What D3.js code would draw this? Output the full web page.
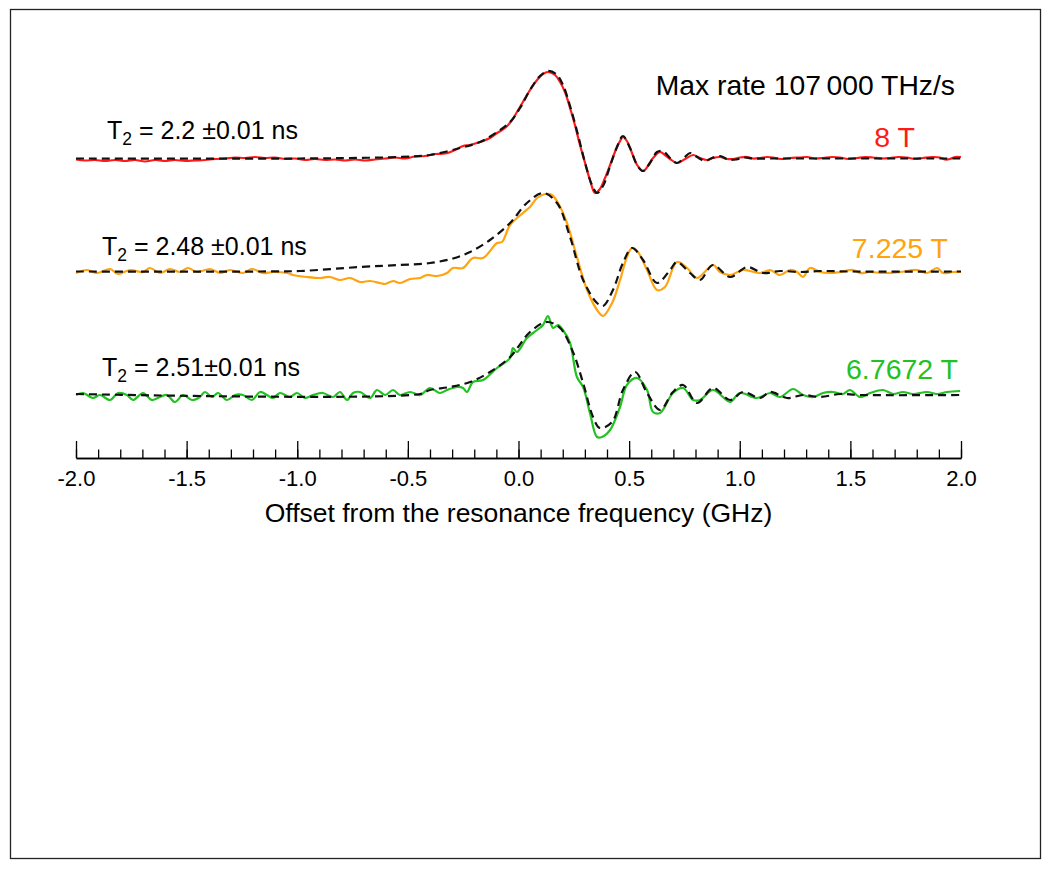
<!DOCTYPE html>
<html>
<head>
<meta charset="utf-8">
<script src="https://cdn.jsdelivr.net/npm/d3@7"></script>
<style>
  html, body { margin: 0; padding: 0; background: #fff; }
  svg { display: block; font-family: "Liberation Sans", Arial, Helvetica, sans-serif; }
</style>
</head>
<body>
<svg id="chart" width="1050" height="870"></svg>
<script>
// ---------------- DATA ----------------
// x: offset from resonance (GHz); signal: arbitrary units relative to each trace's baseline
const majorTicks = [-2.0, -1.5, -1.0, -0.5, 0.0, 0.5, 1.0, 1.5, 2.0];
const fieldLabels = ["8 T", "7.225 T", "6.7672 T"];
const t2Values = ["2.2", "2.48", "2.51"];
const t2Errors = ["0.01", "0.01", "0.01"];
const traceOffsets = [298.5, 185.5, 62];   // vertical stacking offsets (a.u.)

// 8 T measured
const redFreq = [-2.000,-1.959,-1.914,-1.869,-1.824,-1.779,-1.733,-1.688,-1.643,-1.598,-1.553,-1.507,-1.462,-1.417,-1.372,-1.327,-1.281,-1.236,-1.191,-1.146,-1.101,-1.055,-1.010,-0.965,-0.920,-0.875,-0.829,-0.784,-0.739,-0.694,-0.649,-0.603,-0.558,-0.513,-0.468,-0.423,-0.377,-0.332,-0.287,-0.251,-0.219,-0.174,-0.129,-0.097,-0.061,-0.029,-0.007,0.020,0.052,0.084,0.111,0.133,0.165,0.188,0.210,0.233,0.255,0.278,0.301,0.323,0.346,0.368,0.391,0.414,0.436,0.459,0.472,0.490,0.513,0.536,0.563,0.585,0.608,0.640,0.662,0.685,0.716,0.753,0.789,0.820,0.852,0.879,0.911,0.942,0.970,1.001,1.033,1.060,1.092,1.123,1.150,1.182,1.227,1.272,1.304,1.340,1.376,1.417,1.453,1.489,1.530,1.566,1.602,1.643,1.679,1.715,1.756,1.792,1.828,1.869,1.905,1.928,1.950,1.973,2.000];
const redSignal = [-1,-2,-1.5,-2.5,-1.5,-2.5,-1.5,-3,-1.5,-2.5,-1.5,-2.5,-2,-1.5,-0.5,0,1,0.5,1.5,0.5,1,-0.5,0,-1.5,-0.5,-1.5,-1,-2,-1,-2,-1,0,1,0,2,2.5,4.5,5,8.5,12.5,13.5,16.5,20.5,25.5,30.5,38.5,46.5,56.5,68.5,78.5,84.5,86.5,83.5,76.5,66.5,50.5,33.5,13.5,-4.5,-21.5,-34.5,-30.5,-19.5,-6.5,6.5,17.5,21.5,17.5,5.5,-6.5,-12.5,-7.5,0.5,6.5,3.5,-0.5,-4.5,-0.5,3.5,0.5,-1.5,0.5,1.5,-0.5,-0.5,1,1.5,0,0.5,1.5,1,-0.5,0.5,1,1.5,0,0.5,1.5,1,-0.5,0.5,1.5,1,0,0.5,1.5,1,-0.5,0.5,1.5,1,-1,-0.5,1.5,1.5];
// 8 T fit
const redFitFreq = [-2.0,-0.988,-0.762,-0.536,-0.400,-0.264,-0.174,-0.097,-0.038,0.007,0.052,0.097,0.133,0.170,0.201,0.233,0.269,0.301,0.332,0.355,0.382,0.414,0.445,0.472,0.504,0.536,0.563,0.594,0.626,0.653,0.685,0.716,0.748,0.775,0.807,0.843,0.875,0.911,0.947,0.984,1.019,1.056,1.137,2.0];
const redFitSignal = [0,0,0.5,1.5,3.5,10.5,16.5,26.5,36.5,50.5,68.5,82.5,87.5,84.5,73.5,52.5,23.5,-4.5,-26.5,-34.5,-27.5,-7.5,11.5,22.5,10.5,-6.5,-12.5,-4.5,6.5,7.5,0.5,-4.5,0.5,5.5,1.5,-2.5,0.5,2.5,-1,-1,1,0,0,0];

// 7.225 T measured
const orangeFreq = [-2.000,-1.950,-1.905,-1.846,-1.810,-1.756,-1.697,-1.666,-1.620,-1.575,-1.530,-1.494,-1.453,-1.394,-1.349,-1.304,-1.245,-1.205,-1.155,-1.110,-1.046,-1.019,-0.956,-0.897,-0.852,-0.807,-0.762,-0.716,-0.671,-0.626,-0.603,-0.567,-0.536,-0.490,-0.445,-0.414,-0.368,-0.323,-0.296,-0.251,-0.206,-0.160,-0.097,-0.075,-0.038,0.020,0.052,0.084,0.120,0.151,0.179,0.219,0.264,0.310,0.355,0.382,0.423,0.459,0.490,0.513,0.540,0.581,0.626,0.662,0.716,0.762,0.807,0.879,0.911,0.956,1.015,1.092,1.137,1.182,1.227,1.259,1.286,1.318,1.363,1.408,1.453,1.512,1.543,1.589,1.648,1.724,1.801,1.846,1.892,1.919,1.964,2.000];
const orangeSignal = [-1.5,1.5,-1.5,2.5,-2.5,1.5,-0.5,3.5,-1.5,2.5,-0.5,3.5,-0.5,2.5,-1.5,1.5,-1.5,2.5,-1.5,-0.5,-1.5,-3.5,-5.5,-6.5,-5.5,-8.5,-6.5,-10.5,-9.5,-11.5,-12.5,-9.5,-11.5,-7.5,-6.5,-3.5,-4.5,-1.5,3.5,3.5,13.5,13.5,28.5,29.5,46.5,58.5,64.5,73.5,77.5,76.5,68.5,48.5,14.5,-18.5,-38.5,-44.5,-31.5,-8.5,14.5,23.5,19.5,1.5,-18.5,-15.5,9.5,3.5,-6.5,6.5,-0.5,-3.5,1.5,-1.5,1.5,-3.5,1.5,-0.5,-5.5,3.5,-0.5,-1.5,-0.5,1.5,-1.5,-0.5,-1.5,-0.5,1.5,-1.5,3.5,-1.5,-0.5,-0.5];
// 7.225 T fit
const orangeFitFreq = [-2.0,-1.168,-0.988,-0.716,-0.536,-0.400,-0.296,-0.219,-0.129,-0.038,0.038,0.111,0.174,0.233,0.292,0.355,0.382,0.427,0.472,0.513,0.563,0.626,0.685,0.716,0.775,0.820,0.879,0.956,1.033,1.105,1.182,1.272,1.363,1.498,2.0];
const orangeFitSignal = [0,0,0.5,4.5,6.5,8.5,13,19.5,31.5,48.5,68.5,78.5,68.5,34.5,-8.5,-31.5,-34.5,-18.5,8.5,23.5,11.5,-11.5,1.5,9.5,-1.5,-8.5,6.5,-5.5,4.5,-1.5,0.5,-0.5,0.5,0,0];

// 6.7672 T measured
const greenFreq = [-2.000,-1.968,-1.923,-1.892,-1.846,-1.810,-1.770,-1.742,-1.697,-1.657,-1.620,-1.589,-1.553,-1.516,-1.476,-1.440,-1.417,-1.385,-1.358,-1.318,-1.281,-1.245,-1.205,-1.168,-1.137,-1.110,-1.078,-1.033,-1.001,-0.965,-0.929,-0.884,-0.838,-0.807,-0.775,-0.748,-0.716,-0.671,-0.640,-0.603,-0.567,-0.536,-0.490,-0.445,-0.400,-0.355,-0.323,-0.278,-0.251,-0.233,-0.206,-0.160,-0.097,-0.038,-0.025,-0.007,0.038,0.084,0.111,0.133,0.156,0.179,0.201,0.233,0.264,0.292,0.323,0.355,0.377,0.414,0.459,0.490,0.536,0.581,0.608,0.640,0.698,0.744,0.789,0.820,0.879,0.924,0.956,1.001,1.078,1.137,1.182,1.241,1.286,1.331,1.376,1.421,1.467,1.498,1.543,1.589,1.648,1.693,1.738,1.783,1.846,1.892,1.937,1.996];
const greenSignal = [0,2,-3,0,-5,2,0,-5,2,-5,-2,0,-7,0,-5,-2,3,-2,2,-5,0,0,-5,3,0,-3,2,-2,2,-3,0,2,-2,3,-5,2,3,-3,5,0,5,0,3,0,7,2,5,8,7,3,13,15,27,37,47,43,57,65,70,79,67,70,65,52,18,8,-18,-42,-42,-35,-12,10,17,5,-17,-18,2,7,-5,-5,5,-2,-7,2,-3,2,-2,6,0,-2,2,3,1,5,-2,2,5,1,3,1,3,1,3,4];
// 6.7672 T fit
const greenFitFreq = [-2.0,-0.445,-0.400,-0.310,-0.219,-0.129,-0.038,0.052,0.129,0.188,0.246,0.292,0.337,0.368,0.423,0.472,0.527,0.581,0.640,0.698,0.744,0.807,0.879,0.956,1.015,1.092,1.137,1.214,1.286,1.363,1.453,1.543,2.0];
const greenFitSignal = [1,1,5,8,13,23,38,63,73,67,43,12,-22,-33,-27,5,23,2,-15,3,10,-8,7,-5,3,-3,3,-3,0,-2,1,0,0];

// ---------------- DRAWING ----------------
const svg = d3.select("#chart");
const W = 1050, H = 870;

svg.append("rect").attr("x", 0).attr("y", 0).attr("width", W).attr("height", H).attr("fill", "#fff");
svg.append("rect").attr("x", 10.5).attr("y", 9.5).attr("width", 1030).attr("height", 849)
  .attr("fill", "none").attr("stroke", "#222").attr("stroke-width", 1.3);

const x = d3.scaleLinear().domain([-2, 2]).range([76, 961]);
const y = d3.scaleLinear().domain([0, 450]).range([457, 7]);
const axisY = 458;

const colors = ["#ff1a1a", "#ffa30f", "#22c222"];
const traces = [
  {freq: redFreq, sig: redSignal, fitFreq: redFitFreq, fit: redFitSignal},
  {freq: orangeFreq, sig: orangeSignal, fitFreq: orangeFitFreq, fit: orangeFitSignal},
  {freq: greenFreq, sig: greenSignal, fitFreq: greenFitFreq, fit: greenFitSignal}
];

traces.forEach((t, i) => {
  const off = traceOffsets[i];
  const line = d3.line()
    .x(d => x(d[0]))
    .y(d => y(d[1] + off))
    .curve(d3.curveCatmullRom.alpha(0.5));
  const data = t.freq.map((f, k) => [f, t.sig[k]]);
  const fit = t.fitFreq.map((f, k) => [f, t.fit[k]]);
  svg.append("path").attr("d", line(data))
    .attr("fill", "none").attr("stroke", colors[i]).attr("stroke-width", 2.2)
    .attr("stroke-linejoin", "round");
  svg.append("path").attr("d", line(fit))
    .attr("fill", "none").attr("stroke", "#111").attr("stroke-width", 2.2)
    .attr("stroke-dasharray", "8,5");
});

// Axis
const minorTicks = d3.range(-20, 21).map(v => v / 10);
const minorAxis = d3.axisBottom(x).tickValues(minorTicks).tickSize(-8.5).tickSizeOuter(0).tickFormat("");
const majorAxis = d3.axisBottom(x).tickValues(majorTicks).tickSize(-17).tickSizeOuter(0)
  .tickPadding(12).tickFormat(d => d.toFixed(1));

const gMinor = svg.append("g").attr("transform", `translate(0,${axisY})`).call(minorAxis);
const gMajor = svg.append("g").attr("transform", `translate(0,${axisY})`).call(majorAxis);
[gMinor, gMajor].forEach(g => {
  g.selectAll("path.domain").attr("stroke", "#000").attr("stroke-width", 1.5);
  g.selectAll(".tick line").attr("stroke", "#000").attr("stroke-width", 1.3);
});
gMajor.selectAll(".tick text")
  .attr("font-family", "'Liberation Sans', Arial, sans-serif")
  .attr("font-size", 22).attr("fill", "#000");

svg.append("text")
  .attr("x", x(0)).attr("y", 522)
  .attr("text-anchor", "middle").attr("font-size", 26.5).attr("fill", "#000")
  .text("Offset from the resonance frequency (GHz)");

// Title text
svg.append("text")
  .attr("x", 955).attr("y", 95)
  .attr("text-anchor", "end").attr("font-size", 28.3).attr("fill", "#000")
  .text("Max rate 107\u2009000 THz/s");

// Field labels
const fieldPos = [[915, 147], [948, 258], [958, 379]];
fieldLabels.forEach((lab, i) => {
  svg.append("text")
    .attr("x", fieldPos[i][0]).attr("y", fieldPos[i][1])
    .attr("text-anchor", "end").attr("font-size", 28.5).attr("fill", colors[i])
    .text(lab);
});

// T2 labels
const t2Pos = [[107, 139], [102, 255], [102, 376]];
const t2Gap = [" ", " ", ""];
t2Values.forEach((v, i) => {
  const t = svg.append("text")
    .attr("x", t2Pos[i][0]).attr("y", t2Pos[i][1])
    .attr("font-size", 25).attr("fill", "#000");
  t.append("tspan").text("T");
  t.append("tspan").attr("font-size", 17.5).attr("dy", 6).text("2");
  t.append("tspan").attr("dy", -6).text(" = " + v + t2Gap[i] + "\u00B1" + t2Errors[i] + " ns");
});
</script>
</body>
</html>
